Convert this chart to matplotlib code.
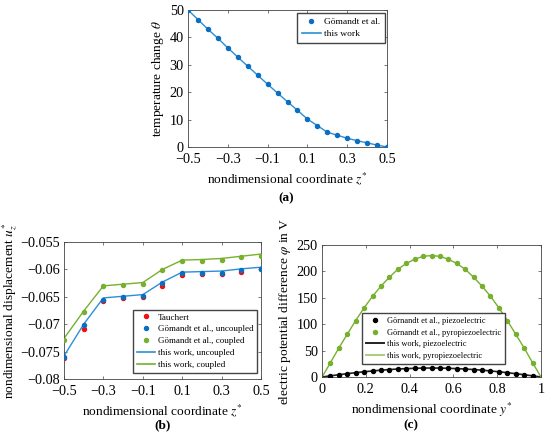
import numpy as np
import matplotlib
matplotlib.use("Agg")
import matplotlib.pyplot as plt
from matplotlib.lines import Line2D

plt.rcParams['font.family'] = ['Liberation Serif', 'DejaVu Serif']
plt.rcParams['mathtext.fontset'] = 'stix'

# ---------- data (a) ----------
z_a = [-0.5, -0.45, -0.4, -0.35, -0.3, -0.25, -0.2, -0.15, -0.1, -0.05, 0.0,
       0.05, 0.1, 0.15, 0.2, 0.25, 0.3, 0.35, 0.4, 0.45, 0.5]
theta_ref = [50, 46.5, 43.0, 39.7, 36.2, 32.8, 29.5, 26.2, 22.9, 19.7, 16.5,
             13.4, 10.2, 7.8, 5.4, 4.3, 3.2, 2.3, 1.5, 0.7, 0.0]
theta_work = [50, 46.5, 43.0, 39.7, 36.2, 32.8, 29.5, 26.2, 22.9, 19.7, 16.5,
              13.4, 10.2, 7.8, 5.4, 4.3, 3.2, 2.3, 1.5, 0.7, 0.0]
xt_a = [-0.5, -0.3, -0.1, 0.1, 0.3, 0.5]
xl_a = ['\u22120.5', '\u22120.3', '\u22120.1', '0.1', '0.3', '0.5']
yt_a = [0, 10, 20, 30, 40, 50]

# ---------- data (b) ----------
z_b = [-0.5, -0.4, -0.3, -0.2, -0.1, 0.0, 0.1, 0.2, 0.3, 0.4, 0.5]
u_tauchert = [-0.0761, -0.0709, -0.0657, -0.0652, -0.0650, -0.0630, -0.0610,
              -0.0609, -0.0609, -0.0604, -0.0600]
u_gom_unc = [-0.0760, -0.0702, -0.0655, -0.0651, -0.0649, -0.0624, -0.0607,
             -0.0607, -0.0606, -0.0601, -0.0599]
u_gom_cpl = [-0.0729, -0.0677, -0.0631, -0.0628, -0.0626, -0.0601, -0.0584,
             -0.0584, -0.0582, -0.0578, -0.0575]
u_work_unc = [-0.0758, -0.0700, -0.0652, -0.0649, -0.0646, -0.0623, -0.0605,
              -0.0604, -0.0603, -0.0599, -0.0596]
u_work_cpl = [-0.0726, -0.0676, -0.0630, -0.0627, -0.0624, -0.0600, -0.0583,
              -0.0582, -0.0580, -0.0576, -0.0572]
xt_b = [-0.5, -0.3, -0.1, 0.1, 0.3, 0.5]
xl_b = ['\u22120.5', '\u22120.3', '\u22120.1', '0.1', '0.3', '0.5']
yt_b = [-0.08, -0.075, -0.07, -0.065, -0.06, -0.055]
yl_b = ['\u22120.08', '\u22120.075', '\u22120.07', '\u22120.065', '\u22120.06', '\u22120.055']

# ---------- data (c) ----------
y_c = np.linspace(0, 1, 27)
phi_piezo = [0, 2.2, 4.3, 6.3, 8.2, 9.9, 11.5, 12.9, 14.1, 15.1, 15.9, 16.5, 16.9,
             17.0, 16.9, 16.5, 15.9, 15.1, 14.1, 12.9, 11.5, 9.9, 8.2, 6.3, 4.3, 2.2, 0]
phi_pyro = [0, 27, 55, 81, 107, 131, 153, 172, 189, 204, 215, 223, 228.5,
            230, 228.5, 223, 215, 204, 189, 172, 153, 131, 107, 81, 55, 27, 0]
xt_c = [0, 0.2, 0.4, 0.6, 0.8, 1]
xl_c = ['0', '0.2', '0.4', '0.6', '0.8', '1']
yt_c = [0, 50, 100, 150, 200, 250]

# ---------- style ----------
BLUE_M = '#0a6fc2'
BLUE_L = '#2c8fd6'
GREEN = '#77b02f'
RED = '#ee1111'
FS = 9.6
TFS = 10.3
MS = 2.9

fig = plt.figure(figsize=(5.5, 4.38), dpi=100)


def style(ax):
    for s in ax.spines.values():
        s.set_color('#444444')
        s.set_linewidth(0.6)
    ax.tick_params(direction='in', top=True, right=True, length=2.5, width=0.5,
                   color='#444444', labelsize=TFS)
    ax.tick_params(axis='x', pad=4.5)
    ax.tick_params(axis='y', pad=3)


LEG = dict(frameon=True, fancybox=False, edgecolor='#444444', borderaxespad=0,
           framealpha=1)

# (a)
ax = fig.add_axes([188/550, 1-147/438, 199/550, 137/438])
ax.plot(z_a, theta_work, color=BLUE_L, lw=1.0, zorder=2)
ax.plot(z_a, theta_ref, 'o', color=BLUE_M, ms=MS, lw=0, zorder=3)
ax.set_xlim(-0.5, 0.5)
ax.set_ylim(0, 50)
ax.set_xticks(xt_a)
ax.set_xticklabels(xl_a)
ax.set_yticks(yt_a)
style(ax)
ax.set_xlabel('nondimensional coordinate $z^{*}$', fontsize=FS, labelpad=3)
ax.set_ylabel('temperature change $\\theta$', fontsize=FS, labelpad=3)
h = [Line2D([], [], marker='o', ls='', color=BLUE_M, ms=MS),
     Line2D([], [], color=BLUE_L, lw=1.2)]
ax.legend(h, ['G\u00f6mandt et al.', 'this work'], loc='upper right', fontsize=6.8,
          handlelength=2.0, handletextpad=0.35, borderpad=0.5, labelspacing=0.35,
          bbox_to_anchor=(0.99, 0.978), **LEG)
fig.text(286/550, 1-198/438, '(a)', ha='center', va='center', fontsize=FS, fontweight='bold')

# (b)
ax = fig.add_axes([64/550, 1-379/438, 197/550, 137/438])
ax.plot(z_b, u_work_unc, color=BLUE_L, lw=1.0, zorder=2)
ax.plot(z_b, u_work_cpl, color=GREEN, lw=1.0, zorder=2)
ax.plot(z_b, u_tauchert, 'o', color=RED, ms=MS, zorder=3)
ax.plot(z_b, u_gom_unc, 'o', color=BLUE_M, ms=MS, zorder=4)
ax.plot(z_b, u_gom_cpl, 'o', color=GREEN, ms=MS, zorder=4)
ax.set_xlim(-0.5, 0.5)
ax.set_ylim(-0.08, -0.055)
ax.set_xticks(xt_b)
ax.set_xticklabels(xl_b)
ax.set_yticks(yt_b)
ax.set_yticklabels(yl_b)
style(ax)
ax.set_xlabel('nondimensional coordinate $z^{*}$', fontsize=FS, labelpad=3)
ax.set_ylabel('nondimensional displacement $u_z^{*}$', fontsize=FS, labelpad=1)
h = [Line2D([], [], marker='o', ls='', color=RED, ms=MS),
     Line2D([], [], marker='o', ls='', color=BLUE_M, ms=MS),
     Line2D([], [], marker='o', ls='', color=GREEN, ms=MS),
     Line2D([], [], color=BLUE_L, lw=1.2),
     Line2D([], [], color=GREEN, lw=1.2)]
ax.legend(h, ['Tauchert', 'G\u00f6mandt et al., uncoupled', 'G\u00f6mandt et al., coupled',
              'this work, uncoupled', 'this work, coupled'],
          loc='lower right', fontsize=6.5, handlelength=2.0, handletextpad=0.3,
          borderpad=0.4, labelspacing=0.4, bbox_to_anchor=(0.98, 0.045), **LEG)
fig.text(163/550, 1-425/438, '(b)', ha='center', va='center', fontsize=FS, fontweight='bold')

# (c)
ax = fig.add_axes([322/550, 1-377/438, 219/550, 132/438])
ax.plot(y_c, phi_piezo, color='#222222', lw=1.2, zorder=2)
ax.plot(y_c, phi_pyro, color=GREEN, lw=1.0, zorder=2)
ax.plot(y_c[1:-1], phi_piezo[1:-1], 'o', color='black', ms=MS, zorder=3)
ax.plot(y_c[1:-1], phi_pyro[1:-1], 'o', color=GREEN, ms=MS, zorder=3)
ax.set_xlim(0, 1)
ax.set_ylim(0, 250)
ax.set_xticks(xt_c)
ax.set_xticklabels(xl_c)
ax.set_yticks(yt_c)
style(ax)
ax.set_xlabel('nondimensional coordinate $y^{*}$', fontsize=FS, labelpad=3)
ax.set_ylabel('electric potential difference $\\varphi$ in V', fontsize=FS, labelpad=3)
h = [Line2D([], [], marker='o', ls='', color='black', ms=MS),
     Line2D([], [], marker='o', ls='', color=GREEN, ms=MS),
     Line2D([], [], color='#222222', lw=1.4),
     Line2D([], [], color='#a8cf78', lw=1.4)]
ax.legend(h, ['G\u00f6rnandt et al., piezoelectric', 'G\u00f6rnandt et al., pyropiezoelectric',
              'this work, piezoelectric', 'this work, pyropiezoelectric'],
          loc='lower left', fontsize=6.0, handlelength=2.2, handletextpad=0.3,
          borderpad=0.45, labelspacing=0.45, bbox_to_anchor=(0.183, 0.1), **LEG)
fig.text(411/550, 1-425/438, '(c)', ha='center', va='center', fontsize=FS, fontweight='bold')

fig.savefig('out.png', dpi=100)
